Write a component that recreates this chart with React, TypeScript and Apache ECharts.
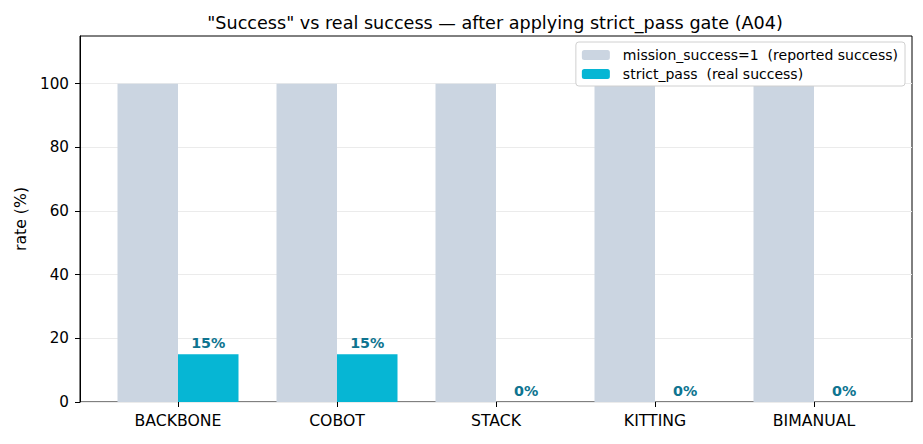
import React, { useEffect, useRef } from "react";
import * as echarts from "echarts";

const categories = ["BACKBONE", "COBOT", "STACK", "KITTING", "BIMANUAL"];
const reportedSuccess = [100, 100, 100, 100, 100];
const strictPass = [15, 15, 0, 0, 0];
const yTicks = [0, 20, 40, 60, 80, 100];

const FONT = "DejaVu Sans";

export default function App() {
  const ref = useRef<HTMLDivElement>(null);
  useEffect(() => {
    if (!ref.current) return;
    const chart = echarts.init(ref.current, undefined, { renderer: "svg" });
    chart.setOption({
      animation: false,
      backgroundColor: "#ffffff",
      textStyle: { fontFamily: FONT },
      title: {
        text: '"Success" vs real success — after applying strict_pass gate (A04)',
        left: 490,
        top: 9,
        textAlign: "center",
        textStyle: { fontFamily: FONT, fontSize: 17.6, fontWeight: "normal", color: "#000" },
      },
      legend: {
        orient: "vertical",
        right: 18,
        top: 42,
        itemWidth: 28,
        itemHeight: 10,
        itemGap: 5,
        padding: [6, 7, 5, 6],
        backgroundColor: "#ffffff",
        borderColor: "#d0d0d0",
        borderWidth: 1,
        borderRadius: 3,
        textStyle: { fontFamily: FONT, fontSize: 14, color: "#000", padding: [0, 0, 0, 8] },
        data: ["mission_success=1  (reported success)", "strict_pass  (real success)"],
      },
      grid: [
        { left: 80, right: 11, top: 36, bottom: 42, show: true, borderColor: "#000", borderWidth: 1, backgroundColor: "transparent" },
        { left: 98.5, right: 29.5, top: 36, bottom: 42 },
      ],
      xAxis: [
        { gridIndex: 0, type: "value", show: false, min: 0, max: 1 },
        {
          gridIndex: 1,
          type: "category",
          data: categories,
          axisLine: { show: false },
          axisTick: { show: true, alignWithLabel: true, length: 5, lineStyle: { color: "#000" } },
          axisLabel: { fontFamily: FONT, fontSize: 15.7, color: "#000", margin: 10 },
        },
      ],
      yAxis: [
        {
          gridIndex: 0,
          type: "value",
          min: 0,
          max: 115,
          interval: 20,
          name: "rate (%)",
          nameLocation: "middle",
          nameGap: 52,
          nameTextStyle: { fontFamily: FONT, fontSize: 15.7, color: "#000" },
          axisLine: { show: true, lineStyle: { color: "#000" } },
          axisTick: { show: true, length: 5, lineStyle: { color: "#000" }, customValues: yTicks },
          axisLabel: {
            fontFamily: FONT,
            fontSize: 15.2,
            color: "#000",
            margin: 11,
            customValues: yTicks,
            formatter: (v: number) => (yTicks.includes(v) ? String(v) : ""),
          },
          splitLine: { show: true, lineStyle: { color: "#ebebeb", width: 1 } },
        },
        { gridIndex: 1, type: "value", min: 0, max: 115, show: false },
      ],
      series: [
        {
          name: "mission_success=1  (reported success)",
          type: "bar",
          xAxisIndex: 1,
          yAxisIndex: 1,
          data: reportedSuccess,
          barWidth: 60.5,
          barGap: "0%",
          itemStyle: { color: "#cbd5e1" },
        },
        {
          name: "strict_pass  (real success)",
          type: "bar",
          xAxisIndex: 1,
          yAxisIndex: 1,
          data: strictPass,
          barWidth: 60.5,
          barGap: "0%",
          itemStyle: { color: "#06b6d4" },
          label: {
            show: true,
            position: "top",
            distance: 4,
            formatter: "{c}%",
            fontFamily: FONT,
            fontSize: 14.3,
            fontWeight: "bold",
            color: "#0e7490",
          },
        },
      ],
    });
    return () => chart.dispose();
  }, []);
  return <div ref={ref} style={{ position: "absolute", left: 0, top: 0, width: 923, height: 444 }} />;
}
